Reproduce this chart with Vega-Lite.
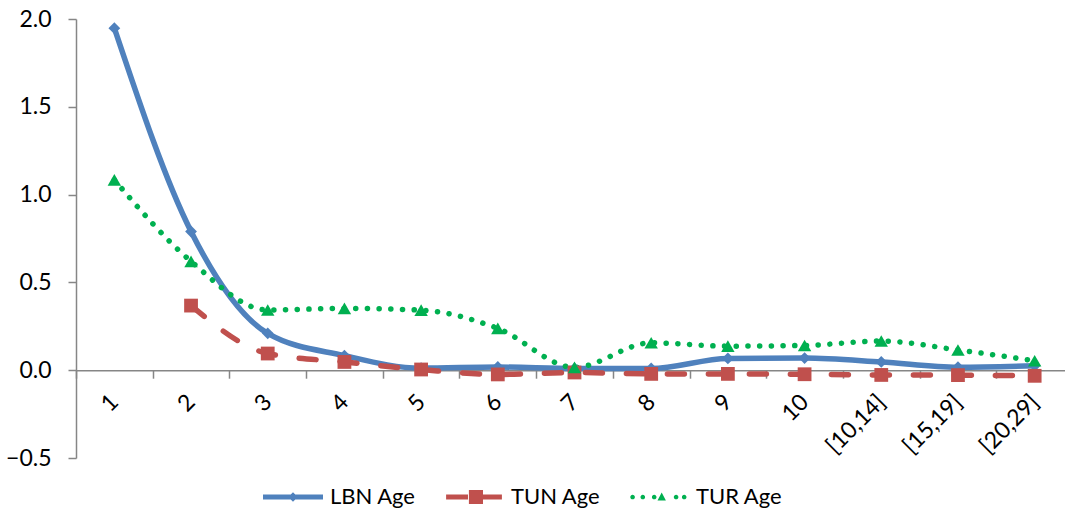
{
  "$schema": "https://vega.github.io/schema/vega-lite/v6.json",
  "width": 989,
  "height": 439,
  "autosize": {"type": "none"},
  "padding": {"left": 76, "top": 19, "right": 0, "bottom": 56},
  "background": "white",
  "config": {
    "view": {"stroke": null},
    "font": "Lato",
    "axis": {"labelFont": "Lato", "labelFontSize": 23, "labelColor": "#000000", "domainColor": "#868686", "tickColor": "#868686", "domainWidth": 1.5, "tickWidth": 1.5, "grid": false, "title": null},
    "legend": {"labelFont": "Lato", "labelFontSize": 22, "labelColor": "#000000"}
  },
  "data": {
    "values": [
      {"cat": "1", "series": "LBN Age", "value": 1.948},
      {"cat": "2", "series": "LBN Age", "value": 0.79},
      {"cat": "3", "series": "LBN Age", "value": 0.21},
      {"cat": "4", "series": "LBN Age", "value": 0.083},
      {"cat": "5", "series": "LBN Age", "value": 0.012},
      {"cat": "6", "series": "LBN Age", "value": 0.018},
      {"cat": "7", "series": "LBN Age", "value": 0.01},
      {"cat": "8", "series": "LBN Age", "value": 0.01},
      {"cat": "9", "series": "LBN Age", "value": 0.067},
      {"cat": "10", "series": "LBN Age", "value": 0.069},
      {"cat": "[10,14]", "series": "LBN Age", "value": 0.047},
      {"cat": "[15,19]", "series": "LBN Age", "value": 0.017},
      {"cat": "[20,29]", "series": "LBN Age", "value": 0.025},
      {"cat": "2", "series": "TUN Age", "value": 0.368},
      {"cat": "3", "series": "TUN Age", "value": 0.095},
      {"cat": "4", "series": "TUN Age", "value": 0.047},
      {"cat": "5", "series": "TUN Age", "value": 0.004},
      {"cat": "6", "series": "TUN Age", "value": -0.024},
      {"cat": "7", "series": "TUN Age", "value": -0.013},
      {"cat": "8", "series": "TUN Age", "value": -0.021},
      {"cat": "9", "series": "TUN Age", "value": -0.021},
      {"cat": "10", "series": "TUN Age", "value": -0.023},
      {"cat": "[10,14]", "series": "TUN Age", "value": -0.027},
      {"cat": "[15,19]", "series": "TUN Age", "value": -0.028},
      {"cat": "[20,29]", "series": "TUN Age", "value": -0.032},
      {"cat": "1", "series": "TUR Age", "value": 1.084},
      {"cat": "2", "series": "TUR Age", "value": 0.62},
      {"cat": "3", "series": "TUR Age", "value": 0.343},
      {"cat": "4", "series": "TUR Age", "value": 0.352},
      {"cat": "5", "series": "TUR Age", "value": 0.342},
      {"cat": "6", "series": "TUR Age", "value": 0.238},
      {"cat": "7", "series": "TUR Age", "value": 0.016},
      {"cat": "8", "series": "TUR Age", "value": 0.156},
      {"cat": "9", "series": "TUR Age", "value": 0.137},
      {"cat": "10", "series": "TUR Age", "value": 0.141},
      {"cat": "[10,14]", "series": "TUR Age", "value": 0.166},
      {"cat": "[15,19]", "series": "TUR Age", "value": 0.115},
      {"cat": "[20,29]", "series": "TUR Age", "value": 0.054}
    ]
  },
  "encoding": {
    "x": {
      "field": "cat",
      "type": "nominal",
      "sort": ["1", "2", "3", "4", "5", "6", "7", "8", "9", "10", "[10,14]", "[15,19]", "[20,29]"],
      "scale": {"type": "band", "range": [0, 997], "paddingInner": 0, "paddingOuter": 0},
      "axis": {"orient": "bottom", "offset": -87.8, "labelAngle": -45, "labelAlign": "right", "labelBaseline": "middle", "labelPadding": 20, "tickBand": "extent", "tickSize": 8}
    },
    "y": {
      "field": "value",
      "type": "quantitative",
      "scale": {"domain": [-0.5, 2.0], "nice": false, "zero": false},
      "axis": {"values": [-0.5, 0, 0.5, 1, 1.5, 2], "format": ".1f", "tickSize": 8, "labelPadding": 17}
    }
  },
  "layer": [
    {
      "transform": [{"filter": "datum.series === 'LBN Age'"}],
      "mark": {"type": "line", "interpolate": "monotone", "color": "#4F81BD", "strokeWidth": 5.5, "strokeCap": "round", "strokeJoin": "round"}
    },
    {
      "transform": [{"filter": "datum.series === 'TUN Age'"}],
      "mark": {"type": "line", "interpolate": "monotone", "color": "#C0504D", "strokeWidth": 5.5, "strokeCap": "round", "strokeDash": [17, 24]}
    },
    {
      "transform": [{"filter": "datum.series === 'TUR Age'"}],
      "mark": {"type": "line", "interpolate": "monotone", "color": "#00B050", "strokeWidth": 5.5, "strokeCap": "round", "strokeDash": [0.1, 11.6]}
    },
    {
      "mark": {
        "type": "point",
        "filled": true,
        "opacity": 1,
        "strokeWidth": 0,
        "shape": {"expr": "datum.series === 'LBN Age' ? 'diamond' : datum.series === 'TUN Age' ? 'square' : datum.series === 'TUR Age' ? 'triangle-up' : datum.value === 'LBN Age' ? 'M-1,-0.08H1V0.08H-1Z M0,-0.16L0.16,0L0,0.16L-0.16,0Z' : datum.value === 'TUN Age' ? 'M-0.93,-0.085H-0.2V0.085H-0.93Z M-0.17,-0.235H0.3V0.235H-0.17Z M0.3,-0.085H0.93V0.085H0.3Z' : 'M-0.957,0a0.077,0.077 0 1,0 0.154,0a0.077,0.077 0 1,0 -0.154,0Z M-0.617,0a0.077,0.077 0 1,0 0.154,0a0.077,0.077 0 1,0 -0.154,0Z M-0.237,0a0.077,0.077 0 1,0 0.154,0a0.077,0.077 0 1,0 -0.154,0Z M0.09,-0.15L0.23,0.12L-0.05,0.12Z M0.493,0a0.077,0.077 0 1,0 0.154,0a0.077,0.077 0 1,0 -0.154,0Z M0.763,0a0.077,0.077 0 1,0 0.154,0a0.077,0.077 0 1,0 -0.154,0Z'"},
        "size": {"expr": "datum.series === 'LBN Age' ? 140 : datum.series === 'TUN Age' ? 190 : 180"}
      },
      "encoding": {
        "color": {
          "field": "series",
          "type": "nominal",
          "scale": {"domain": ["LBN Age", "TUN Age", "TUR Age"], "range": ["#4F81BD", "#C0504D", "#00B050"]},
          "legend": {
            "orient": "none",
            "legendX": 187,
            "legendY": 448,
            "direction": "horizontal",
            "title": null,
            "padding": 0,
            "symbolSize": 3600,
            "symbolStrokeWidth": 0,
            "labelOffset": 7,
            "columnPadding": 28,
            "encode": {
              "symbols": {
                "size": {"value": 3600},
                "opacity": {"value": 1},
                "strokeWidth": {"value": 0}
              }
            }
          }
        }
      }
    }
  ]
}
